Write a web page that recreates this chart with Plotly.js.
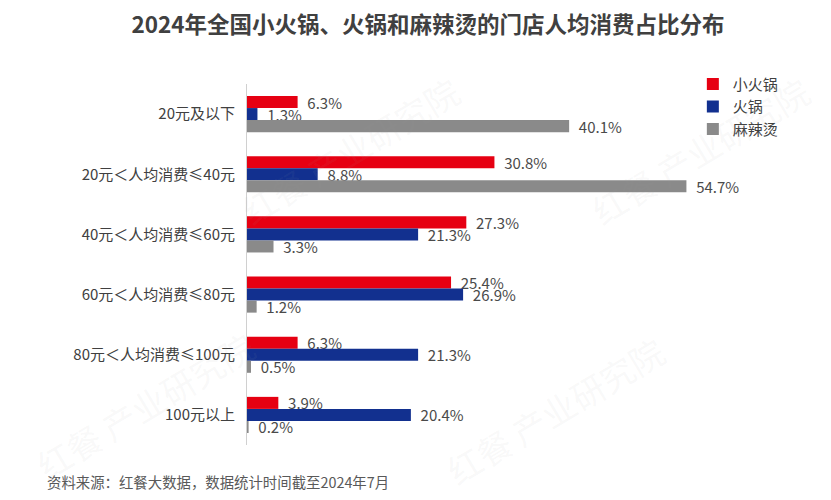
<!DOCTYPE html>
<html>
<head>
<meta charset="utf-8">
<script src="https://cdn.plot.ly/plotly-3.0.1.min.js"></script>
<style>html,body{margin:0;padding:0;background:#fff;}#chart{width:831px;height:500px;}</style>
</head>
<body>
<div id="chart"></div>
<script>
const categories = ['20元及以下', '20元＜人均消费≤40元', '40元＜人均消费≤60元', '60元＜人均消费≤80元', '80元＜人均消费≤100元', '100元以上'];
const seriesNames = ['小火锅', '火锅', '麻辣烫'];
const xiaoHuoguo = [6.3, 30.8, 27.3, 25.4, 6.3, 3.9];
const huoguo = [1.3, 8.8, 21.3, 26.9, 21.3, 20.4];
const malatang = [40.1, 54.7, 3.3, 1.2, 0.5, 0.2];
const colors = ['#E60012', '#12308F', '#8A8A8A'];

const font = 'Noto Sans CJK SC, sans-serif';
const values = [xiaoHuoguo, huoguo, malatang];
const traces = values.map((v, i) => ({
  type: 'bar',
  orientation: 'h',
  name: seriesNames[i],
  legendgroup: 'g' + i,
  y: categories,
  x: v,
  marker: {color: colors[i]},
  text: v.map(d => '  ' + d.toFixed(1) + '%'),
  textposition: 'outside',
  constraintext: 'none',
  cliponaxis: false,
  textfont: {family: font, size: 15, color: '#4a4a4a'},
  outsidetextfont: {family: font, size: 15, color: '#4a4a4a'},
  hoverinfo: 'none'
}));

const W = 482, H = 361, L = 247, T = 84;
function px(x) { return (x - L) / W; }
function py(y) { return (T + H - y) / H; }
const wm = [[145, 405], [555, 410], [700, 150], [350, 150]].map(p => ({
  text: '红餐 产业研究院', xref: 'paper', yref: 'paper', x: px(p[0]), y: py(p[1]),
  xanchor: 'center', yanchor: 'middle', showarrow: false, textangle: -31,
  font: {family: font, size: 34, color: 'rgba(160,160,160,0.08)'}
}));

const layout = {
  width: 831, height: 500,
  margin: {l: L, r: 831 - L - W, t: T, b: 500 - T - H},
  paper_bgcolor: '#fff', plot_bgcolor: '#fff',
  barmode: 'group', bargap: 0.4, bargroupgap: 0,
  title: {text: '2024年全国小火锅、火锅和麻辣烫的门店人均消费占比分布', x: 428 / 831, xanchor: 'center', y: 0.95, yanchor: 'middle',
    font: {family: font, size: 22.5, color: '#404040', weight: 'bold'}},
  xaxis: {range: [0, 60], showgrid: false, zeroline: false, showticklabels: false, showline: false, fixedrange: true},
  yaxis: {autorange: 'reversed', showgrid: false, zeroline: false, showline: true, linecolor: '#d0d0d0', linewidth: 1,
    ticks: '', tickfont: {family: font, size: 15, color: '#404040'}, ticklabelstandoff: 8},
  showlegend: true,
  legend: {x: 0.925, xanchor: 'left', y: 1.045, yanchor: 'top', traceorder: 'normal',
    font: {family: font, size: 15, color: '#404040'}, itemwidth: 30, tracegroupgap: 8},
  annotations: wm.concat([
    {text: '资料来源：红餐大数据，数据统计时间截至2024年7月', xref: 'paper', yref: 'paper', x: px(45), xanchor: 'left', y: py(481), yanchor: 'middle', showarrow: false,
      font: {family: font, size: 14.4, color: '#595959'}}
  ])
};
Plotly.newPlot('chart', traces, layout, {displayModeBar: false, staticPlot: true});
</script>
</body>
</html>
